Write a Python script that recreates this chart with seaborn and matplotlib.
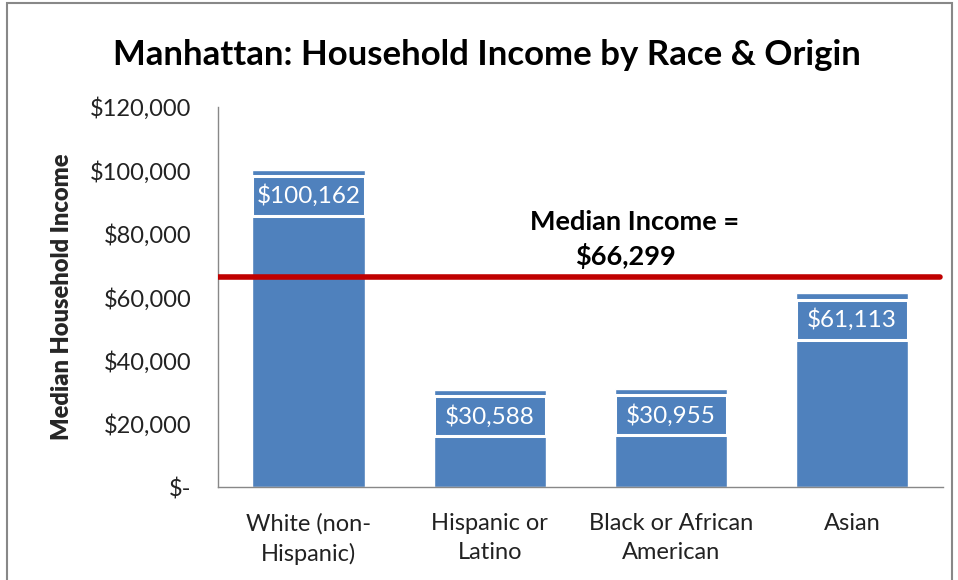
import matplotlib
matplotlib.use("Agg")
import matplotlib.pyplot as plt
from matplotlib.patches import Rectangle
import seaborn as sns
import pandas as pd

categories = ["White (non-\nHispanic)", "Hispanic or\nLatino", "Black or African\nAmerican", "Asian"]
incomes = [100162, 30588, 30955, 61113]
median_income = 66299
y_ticks = [0, 20000, 40000, 60000, 80000, 100000, 120000]
y_tick_labels = ["$-", "$20,000", "$40,000", "$60,000", "$80,000", "$100,000", "$120,000"]

bar_color = "#4F81BD"
line_color = "#C00000"

sns.set_theme(style="white")
plt.rcParams["font.family"] = ["Lato", "DejaVu Sans"]

df = pd.DataFrame({"group": categories, "income": incomes})

fig = plt.figure(figsize=(9.58, 5.8), dpi=100)
ax = fig.add_axes([0.2276, 0.1603, 0.984 - 0.2276, 0.8155 - 0.1603])

bar_w = 0.62
sns.barplot(data=df, x="group", y="income", color=bar_color, saturation=1,
            width=bar_w, ax=ax)

ax.set_ylim(0, 120000)
ax.set_xlim(-0.5, len(categories) - 0.5)
ax.set_yticks(y_ticks)
ax.set_yticklabels(y_tick_labels, fontsize=17, color="#222222")
ax.tick_params(axis="y", length=8, width=1, color="#888888", direction="out", pad=11)

ax.set_xticks(range(len(categories)))
ax.set_xticklabels(categories, fontsize=17, color="#222222", linespacing=1.45)
ax.tick_params(axis="x", which="major", length=0, pad=19)
ax.set_xticks([i - 0.5 for i in range(len(categories) + 1)], minor=True)
ax.tick_params(axis="x", which="minor", length=8, width=1, color="#888888", direction="out")

ax.set_xlabel("")
ax.set_ylabel("Median Household Income", fontsize=17, fontweight="heavy", labelpad=12)

for side in ["top", "right"]:
    ax.spines[side].set_visible(False)
for side in ["left", "bottom"]:
    ax.spines[side].set_color("#888888")
    ax.spines[side].set_linewidth(1)

# value boxes drawn just under each bar top
for i, v in enumerate(incomes):
    top = v - 1900
    bottom = v - 14600
    ax.add_patch(Rectangle((i - bar_w / 2, bottom), bar_w, top - bottom,
                           facecolor=bar_color, edgecolor="white", linewidth=2.2,
                           zorder=3, clip_on=False))
    ax.text(i, (top + bottom) / 2, f"${v:,}", ha="center", va="center",
            color="white", fontsize=17.5, zorder=4)

ax.axhline(median_income, color=line_color, linewidth=4, zorder=5, xmin=-0.003, xmax=0.996)
ax.text(1.80, median_income + 17500, "Median Income =", ha="center", va="center",
        fontsize=19.5, fontweight="bold", color="black")
ax.text(1.75, median_income + 6500, f"${median_income:,}", ha="center", va="center",
        fontsize=19.5, fontweight="bold", color="black")

fig.text(0.508, 0.905, "Manhattan: Household Income by Race & Origin", ha="center",
         va="center", fontsize=25, fontweight="bold", color="black")

fig.patches.append(Rectangle((0.007, -0.02), 0.987, 1.014, transform=fig.transFigure,
                             fill=False, edgecolor="#888888", linewidth=1.5))

fig.savefig("out.png", dpi=100)
